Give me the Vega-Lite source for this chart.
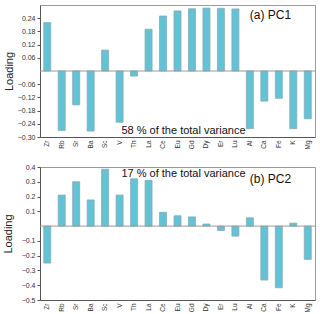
{
  "$schema": "https://vega.github.io/schema/vega-lite/v6.json",
  "padding": {"left": 1, "top": 4, "right": 2, "bottom": 0},
  "spacing": 12,
  "config": {
    "font": "Liberation Sans",
    "view": {"stroke": "#9a9a9a", "strokeWidth": 1},
    "axis": {"labelColor": "#333", "domainColor": "#555", "tickColor": "#555", "grid": false, "labelFont": "Liberation Sans", "labelOverlap": false}
  },
  "datasets": {
    "pc": [
      {"el": "Zr", "pc1": 0.22, "pc2": -0.25},
      {"el": "Rb", "pc1": -0.27, "pc2": 0.21},
      {"el": "Sr", "pc1": -0.154, "pc2": 0.30},
      {"el": "Ba", "pc1": -0.273, "pc2": 0.177},
      {"el": "Sc", "pc1": 0.095, "pc2": 0.385},
      {"el": "V", "pc1": -0.233, "pc2": 0.21},
      {"el": "Th", "pc1": -0.023, "pc2": 0.32},
      {"el": "La", "pc1": 0.19, "pc2": 0.31},
      {"el": "Ce", "pc1": 0.25, "pc2": 0.093},
      {"el": "Eu", "pc1": 0.273, "pc2": 0.07},
      {"el": "Gd", "pc1": 0.283, "pc2": 0.062},
      {"el": "Dy", "pc1": 0.286, "pc2": 0.014},
      {"el": "Er", "pc1": 0.285, "pc2": -0.03},
      {"el": "Lu", "pc1": 0.282, "pc2": -0.068},
      {"el": "Al", "pc1": -0.262, "pc2": 0.056},
      {"el": "Ca", "pc1": -0.137, "pc2": -0.365},
      {"el": "Fe", "pc1": -0.124, "pc2": -0.417},
      {"el": "K", "pc1": -0.262, "pc2": 0.02},
      {"el": "Mg", "pc1": -0.217, "pc2": -0.225}
    ],
    "ann": [
      {"panel": "a", "label": "(a) PC1", "el": "Al", "y": 0.255},
      {"panel": "a", "label": "58 % of  the  total variance", "el": "Eu", "y": -0.272},
      {"panel": "b", "label": "(b) PC2", "el": "Al", "y": 0.32},
      {"panel": "b", "label": "17 % of  the  total variance", "el": "Eu", "y": 0.354}
    ],
    "zero": [{"y": 0}]
  },
  "vconcat": [
    {
      "width": 275,
      "height": 132,
      "layer": [
        {
          "data": {"name": "pc"},
          "mark": {"type": "bar", "color": "#62c3d7", "stroke": "#8aa9b0", "strokeWidth": 0.8, "width": 7},
          "encoding": {
            "x": {"field": "el", "type": "nominal", "sort": null, "title": null,
                  "scale": {"paddingInner": 0.5, "paddingOuter": 0.25},
                  "axis": {"labelAngle": -90, "labelFontSize": 6.5, "ticks": false, "labelPadding": 3, "labelAlign": "right", "labelBaseline": "middle", "labelOverlap": false}},
            "y": {"field": "pc1", "type": "quantitative", "title": "Loading",
                  "scale": {"domain": [-0.3, 0.3], "nice": false, "zero": true},
                  "axis": {"values": [-0.3, -0.24, -0.18, -0.12, -0.06, 0.06, 0.12, 0.18, 0.24], "tickCount": 20, "format": ".2f", "labelFontSize": 7, "labelOverlap": false, "labelFlush": false, "tickSize": 3, "titleFontSize": 11, "titleFontWeight": "normal", "titleColor": "#222", "titlePadding": 3}}
          }
        },
        {
          "data": {"name": "zero"},
          "mark": {"type": "rule", "color": "#9a9a9a", "strokeWidth": 1},
          "encoding": {"y": {"field": "y", "type": "quantitative"}}
        },
        {
          "data": {"name": "ann"},
          "transform": [{"filter": "datum.panel == 'a' && datum.el == 'Al'"}],
          "mark": {"type": "text", "fontSize": 12, "align": "left", "baseline": "middle", "color": "#111"},
          "encoding": {"x": {"field": "el", "type": "nominal", "sort": null}, "y": {"field": "y", "type": "quantitative"}, "text": {"field": "label"}}
        },
        {
          "data": {"name": "ann"},
          "transform": [{"filter": "datum.panel == 'a' && datum.el == 'Eu'"}],
          "mark": {"type": "text", "fontSize": 11, "align": "center", "baseline": "middle", "color": "#111", "dx": 6},
          "encoding": {"x": {"field": "el", "type": "nominal", "sort": null}, "y": {"field": "y", "type": "quantitative"}, "text": {"field": "label"}}
        }
      ]
    },
    {
      "width": 275,
      "height": 133,
      "layer": [
        {
          "data": {"name": "pc"},
          "mark": {"type": "bar", "color": "#62c3d7", "stroke": "#8aa9b0", "strokeWidth": 0.8, "width": 7},
          "encoding": {
            "x": {"field": "el", "type": "nominal", "sort": null, "title": null,
                  "scale": {"paddingInner": 0.5, "paddingOuter": 0.25},
                  "axis": {"labelAngle": -90, "labelFontSize": 6.5, "ticks": false, "labelPadding": 3, "labelAlign": "right", "labelBaseline": "middle", "labelOverlap": false}},
            "y": {"field": "pc2", "type": "quantitative", "title": "Loading",
                  "scale": {"domain": [-0.5, 0.4], "nice": false, "zero": true},
                  "axis": {"values": [-0.5, -0.4, -0.3, -0.2, -0.1, 0.1, 0.2, 0.3, 0.4], "tickCount": 20, "format": ".1f", "labelFontSize": 7, "labelOverlap": false, "labelFlush": false, "tickSize": 3, "titleFontSize": 11, "titleFontWeight": "normal", "titleColor": "#222", "titlePadding": 8}}
          }
        },
        {
          "data": {"name": "zero"},
          "mark": {"type": "rule", "color": "#9a9a9a", "strokeWidth": 1},
          "encoding": {"y": {"field": "y", "type": "quantitative"}}
        },
        {
          "data": {"name": "ann"},
          "transform": [{"filter": "datum.panel == 'b' && datum.el == 'Al'"}],
          "mark": {"type": "text", "fontSize": 12, "align": "left", "baseline": "middle", "color": "#111"},
          "encoding": {"x": {"field": "el", "type": "nominal", "sort": null}, "y": {"field": "y", "type": "quantitative"}, "text": {"field": "label"}}
        },
        {
          "data": {"name": "ann"},
          "transform": [{"filter": "datum.panel == 'b' && datum.el == 'Eu'"}],
          "mark": {"type": "text", "fontSize": 11, "align": "center", "baseline": "middle", "color": "#111", "dx": 6},
          "encoding": {"x": {"field": "el", "type": "nominal", "sort": null}, "y": {"field": "y", "type": "quantitative"}, "text": {"field": "label"}}
        }
      ]
    }
  ]
}
